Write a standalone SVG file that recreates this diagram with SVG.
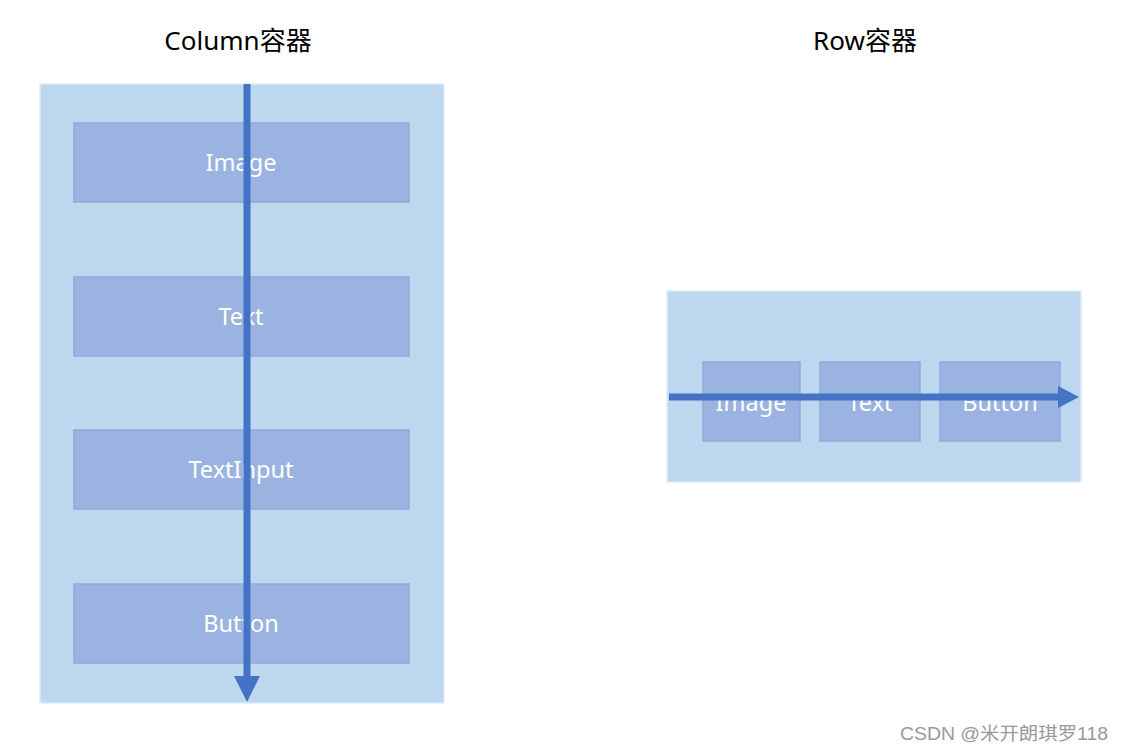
<svg xmlns="http://www.w3.org/2000/svg" width="1123" height="752" viewBox="0 0 1123 752">
<style>
.title{font-family:"Noto Sans","Noto Sans CJK SC",sans-serif;font-size:26px;fill:#000;text-anchor:middle}
.cont{fill:#BDD7EE;stroke:#DDEBF7;stroke-width:1.5}
.box{fill:#9AB3E0;stroke:#8EAADB;stroke-width:1.5}
.lbl{font-family:"Noto Sans","Open Sans",sans-serif;font-size:23.5px;fill:#fff;text-anchor:middle}
.arrow{stroke:#4472C4;stroke-width:7;fill:none}
.head{fill:#4472C4}
.wm{font-family:"Liberation Sans","Noto Sans CJK SC",sans-serif;font-size:18px;fill:#999}
</style>
<rect width="1123" height="752" fill="#fff"/>
<text class="title" x="238" y="50">Column容器</text>
<text class="title" x="865" y="50">Row容器</text>
<g id="column-container"><rect class="cont" x="40" y="84" width="404" height="619"/></g>
<g id="col-image"><rect class="box" x="74" y="123" width="335" height="79"/><text class="lbl" x="241" y="171">Image</text></g>
<g id="col-text"><rect class="box" x="74" y="277" width="335" height="79"/><text class="lbl" x="241" y="325">Text</text></g>
<g id="col-textinput"><rect class="box" x="74" y="430" width="335" height="79"/><text class="lbl" x="241" y="478">TextInput</text></g>
<g id="col-button"><rect class="box" x="74" y="584" width="335" height="79"/><text class="lbl" x="241" y="632">Button</text></g>
<g id="row-container"><rect class="cont" x="667" y="291" width="414" height="191"/></g>
<g id="row-image"><rect class="box" x="703" y="362" width="97" height="79"/><text class="lbl" x="751" y="411">Image</text></g>
<g id="row-text"><rect class="box" x="820" y="362" width="100" height="79"/><text class="lbl" x="870" y="411">Text</text></g>
<g id="row-button"><rect class="box" x="940" y="362" width="120" height="79"/><text class="lbl" x="1000" y="411">Button</text></g>
<g id="connectors">
<line class="arrow" x1="247" y1="84" x2="247" y2="678"/>
<polygon class="head" points="234,676 260,676 247,702"/>
<line class="arrow" x1="669" y1="397" x2="1060" y2="397"/>
<polygon class="head" points="1058,386 1058,408 1079,397"/>
</g>
<text class="wm" x="900" y="740" textLength="208" lengthAdjust="spacingAndGlyphs">CSDN @米开朗琪罗118</text>
</svg>
